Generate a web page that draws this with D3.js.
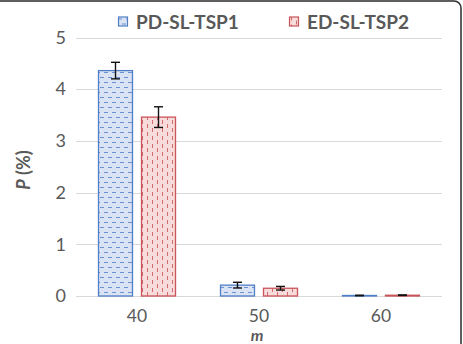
<!DOCTYPE html>
<html>
<head>
<meta charset="utf-8">
<script src="https://cdn.jsdelivr.net/npm/d3@7"></script>
<style>
  html, body { margin: 0; padding: 0; background: #fff; }
  svg { display: block; font-family: "Lato", "Open Sans", sans-serif; }
</style>
</head>
<body>
<svg id="chart" width="463" height="344"></svg>
<script>
// Bar chart with error bars: P (%) by m, two series.
const categories = ["40", "50", "60"];
const seriesNames = ["PD-SL-TSP1", "ED-SL-TSP2"];
const pdValues = [4.36, 0.21, 0.01];
const pdErrors = [0.16, 0.055, 0.005];
const edValues = [3.46, 0.15, 0.015];
const edErrors = [0.20, 0.035, 0.005];
const yTicks = [0, 1, 2, 3, 4, 5];

const plot = { left: 76, right: 442, top: 37.5, bottom: 296 };
const labelFont = "Lato, 'Open Sans', sans-serif";

const svg = d3.select("#chart");
const defs = svg.append("defs");

// hatch patterns (Excel "dashed horizontal" / "dashed vertical")
const pBlue = defs.append("pattern").attr("id", "pat-blue")
  .attr("patternUnits", "userSpaceOnUse").attr("width", 8).attr("height", 10);
pBlue.append("rect").attr("width", 8).attr("height", 10).attr("fill", "#dae3f3");
pBlue.append("line").attr("x1", 0).attr("x2", 4).attr("y1", 2.5).attr("y2", 2.5)
  .attr("stroke", "#6a92d2").attr("stroke-width", 1);
pBlue.append("line").attr("x1", 4).attr("x2", 8).attr("y1", 7.5).attr("y2", 7.5)
  .attr("stroke", "#6a92d2").attr("stroke-width", 1);

const pRed = defs.append("pattern").attr("id", "pat-red")
  .attr("patternUnits", "userSpaceOnUse").attr("width", 10).attr("height", 8);
pRed.append("rect").attr("width", 10).attr("height", 8).attr("fill", "#f8dcdc");
pRed.append("line").attr("y1", 0).attr("y2", 4).attr("x1", 2.5).attr("x2", 2.5)
  .attr("stroke", "#d46a6e").attr("stroke-width", 1);
pRed.append("line").attr("y1", 4).attr("y2", 8).attr("x1", 7.5).attr("x2", 7.5)
  .attr("stroke", "#d46a6e").attr("stroke-width", 1);

const fills = ["url(#pat-blue)", "url(#pat-red)"];
const strokes = ["#4f7fc6", "#c9545a"];

const x = d3.scaleBand().domain(categories).range([plot.left, plot.right]);
const xs = d3.scaleBand().domain(seriesNames).range([22, 100]).paddingInner(8 / 43);
const y = d3.scaleLinear().domain([0, 5]).range([plot.bottom, plot.top]);

// gridlines
svg.append("g").selectAll("line").data(yTicks).join("line")
  .attr("x1", plot.left).attr("x2", plot.right)
  .attr("y1", d => Math.round(y(d)) + 0.5).attr("y2", d => Math.round(y(d)) + 0.5)
  .attr("stroke", "#d9d9d9").attr("stroke-width", 1);

// y axis labels
const yAxis = d3.axisLeft(y).tickValues(yTicks).tickSize(0).tickPadding(0).tickFormat(d3.format("d"));
svg.append("g").attr("transform", `translate(${plot.left - 10},0)`).call(yAxis)
  .call(g => g.select(".domain").remove())
  .selectAll("text").attr("font-size", 18).attr("fill", "#595959")
  .attr("font-family", labelFont);

// x axis labels
const xAxis = d3.axisBottom(x).tickSize(0).tickPadding(0);
svg.append("g").attr("transform", `translate(0,${plot.bottom})`).call(xAxis)
  .call(g => g.select(".domain").remove())
  .selectAll("text").attr("font-size", 17.5).attr("fill", "#595959")
  .attr("font-family", labelFont).attr("dy", null).attr("y", 26);

// bars
const series = [
  { name: seriesNames[0], values: pdValues, errors: pdErrors },
  { name: seriesNames[1], values: edValues, errors: edErrors }
];
const barData = [];
series.forEach((s, si) => categories.forEach((c, ci) => {
  barData.push({ cat: c, name: s.name, si, v: s.values[ci], e: s.errors[ci] });
}));

svg.append("g").selectAll("rect").data(barData).join("rect")
  .attr("x", d => x(d.cat) + xs(d.name) + 0.5)
  .attr("y", d => y(d.v))
  .attr("width", xs.bandwidth() - 1)
  .attr("height", d => y(0) - y(d.v))
  .attr("fill", d => fills[d.si])
  .attr("stroke", d => strokes[d.si])
  .attr("stroke-width", 1.3);

// error bars
const eb = svg.append("g").attr("stroke", "#111").attr("stroke-width", 1.4);
const cx = d => x(d.cat) + xs(d.name) + xs.bandwidth() / 2;
eb.selectAll("line.v").data(barData).join("line").attr("class", "v")
  .attr("x1", cx).attr("x2", cx)
  .attr("y1", d => y(d.v + d.e)).attr("y2", d => y(Math.max(0, d.v - d.e)));
eb.selectAll("line.t").data(barData).join("line").attr("class", "t")
  .attr("x1", d => cx(d) - 4.5).attr("x2", d => cx(d) + 4.5)
  .attr("y1", d => y(d.v + d.e)).attr("y2", d => y(d.v + d.e));
eb.selectAll("line.b").data(barData).join("line").attr("class", "b")
  .attr("x1", d => cx(d) - 4.5).attr("x2", d => cx(d) + 4.5)
  .attr("y1", d => y(Math.max(0, d.v - d.e))).attr("y2", d => y(Math.max(0, d.v - d.e)));

// legend
const legendX = [118, 289];
const lg = svg.append("g").selectAll("g").data(seriesNames).join("g")
  .attr("transform", (d, i) => `translate(${legendX[i]},16.5)`);
lg.append("rect").attr("x", 0.5).attr("y", 0.5).attr("width", 9).attr("height", 9)
  .attr("fill", (d, i) => fills[i]).attr("stroke", (d, i) => strokes[i]).attr("stroke-width", 1.2);
lg.append("text").attr("x", 18).attr("y", 12)
  .attr("font-size", 19).attr("font-weight", "bold").attr("fill", "#595959")
  .text(d => d);

// axis titles
svg.append("text")
  .attr("transform", `translate(29.5,${170}) rotate(-90)`)
  .attr("text-anchor", "middle").attr("font-size", 18).attr("font-weight", "bold").attr("fill", "#595959")
  .call(t => {
    t.append("tspan").attr("font-style", "italic").text("P");
    t.append("tspan").text(" (%)");
  });
svg.append("text")
  .attr("x", 257).attr("y", 340.5)
  .attr("text-anchor", "middle").attr("font-size", 16).attr("font-weight", "bold")
  .attr("font-style", "italic").attr("fill", "#595959")
  .text("m");

// chart border (top / right edges visible)
svg.append("rect").attr("x", -20).attr("y", 1).attr("width", 481).attr("height", 380)
  .attr("rx", 7).attr("fill", "none").attr("stroke", "#2b2b2b").attr("stroke-width", 1.5);
</script>
</body>
</html>
